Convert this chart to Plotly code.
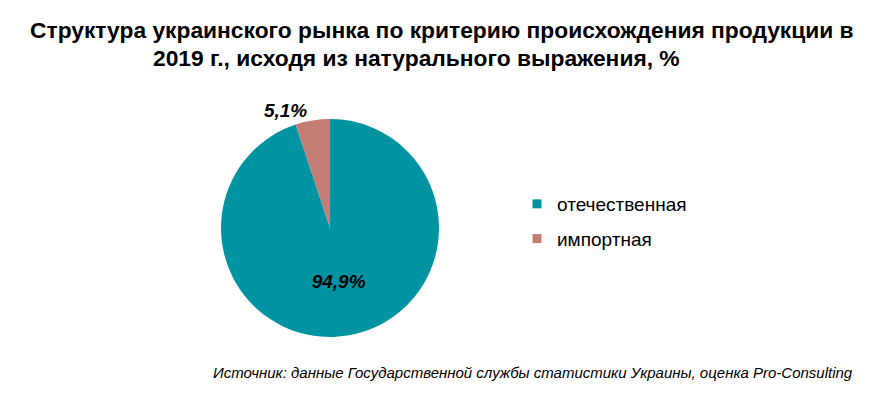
import plotly.graph_objects as go

labels = ["отечественная", "импортная"]
values = [94.9, 5.1]
colors = ["#0094A3", "#C47D75"]
title_lines = [
    "Структура украинского рынка по критерию происхождения продукции в",
    "2019 г., исходя из натурального выражения, %",
]
source = "Источник: данные Государственной службы статистики Украины, оценка Pro-Consulting"

W, H = 895, 395
OFF = 8  # page body margin
FONT = "Liberation Sans, Arial"


def px(x):
    return (x - OFF) / W


def py(y):
    return 1 - (y - OFF) / H


cx, cy, r = 330, 228, 109

fig = go.Figure()
fig.add_trace(go.Pie(
    labels=labels,
    values=values,
    sort=False,
    direction="clockwise",
    rotation=0,
    showlegend=False,
    marker=dict(colors=colors, line=dict(width=0)),
    texttemplate="<b><i>%{value:.1f}%</i></b>",
    textposition=["inside", "outside"],
    insidetextorientation="horizontal",
    textfont=dict(family=FONT, size=19, color="#000000"),
    domain=dict(x=[px(cx - r), px(cx + r)], y=[py(cy + r), py(cy - r)]),
    hoverinfo="label+percent",
))

# legend entries (square markers) matching slice colours
for i, (lab, col) in enumerate(zip(labels, colors)):
    fig.add_trace(go.Scatter(
        x=[None], y=[None], mode="markers", name=lab, legendgroup=f"g{i}",
        marker=dict(symbol="square", size=9, color=col),
        showlegend=True, hoverinfo="skip",
    ))

fig.update_layout(
    width=W, height=H,
    margin=dict(l=0, r=0, t=0, b=0),
    paper_bgcolor="white",
    plot_bgcolor="white",
    separators=", ",
    showlegend=True,
    xaxis=dict(visible=False),
    yaxis=dict(visible=False),
    legend=dict(
        x=px(517), y=py(185), xanchor="left", yanchor="top",
        font=dict(family=FONT, size=19, color="#000000"),
        itemwidth=30, tracegroupgap=7, traceorder="grouped",
        bgcolor="rgba(0,0,0,0)",
    ),
    font=dict(family=FONT),
)

fig.add_annotation(
    text="<b>" + title_lines[0] + "</b>", x=px(442), y=py(30),
    xref="paper", yref="paper", xanchor="center", yanchor="middle",
    showarrow=False, font=dict(family=FONT, size=22.8, color="#000000"),
)
fig.add_annotation(
    text="<b>" + title_lines[1] + "</b>", x=px(416), y=py(58),
    xref="paper", yref="paper", xanchor="center", yanchor="middle",
    showarrow=False, font=dict(family=FONT, size=22.8, color="#000000"),
)
fig.add_annotation(
    text="<i>" + source + "</i>", x=px(855), y=py(372),
    xref="paper", yref="paper", xanchor="right", yanchor="middle",
    showarrow=False, font=dict(family=FONT, size=15, color="#000000"),
)

fig.write_html("out.html")
